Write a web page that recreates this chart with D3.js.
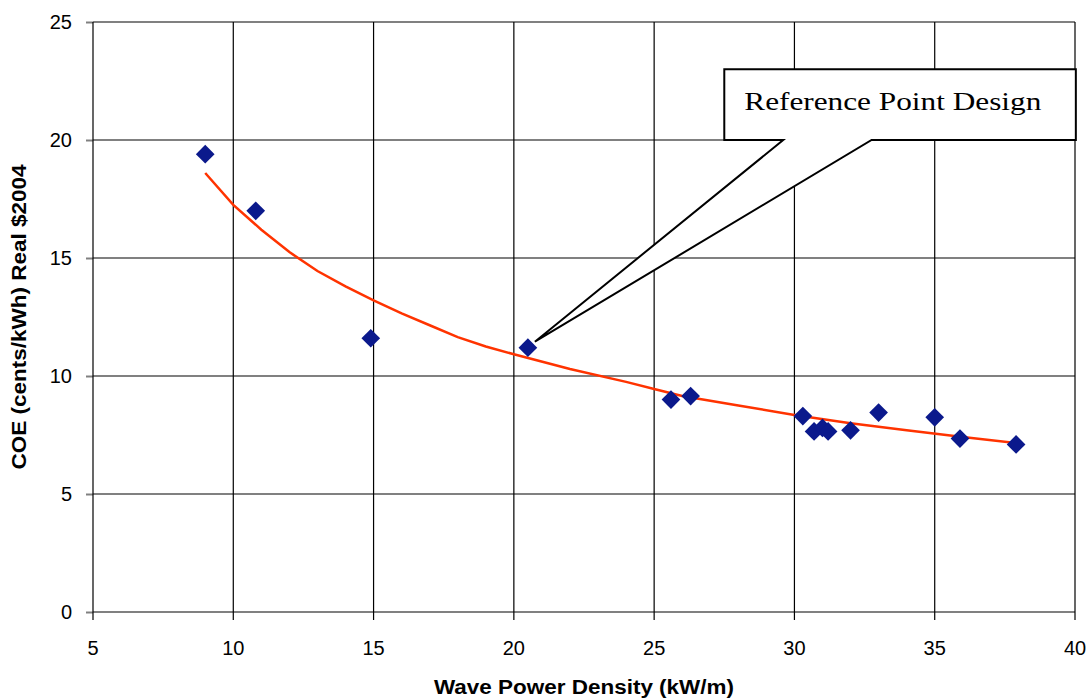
<!DOCTYPE html>
<html>
<head>
<meta charset="utf-8">
<script src="https://cdn.jsdelivr.net/npm/d3@7"></script>
<style>
  html, body { margin: 0; padding: 0; background: #fff; }
  svg { display: block; }
</style>
</head>
<body>
<svg id="chart"></svg>
<script>
// wave power density (kW/m) vs cost of energy (cents/kWh)
var power = [9.0, 10.8, 14.9, 20.5, 25.6, 26.3, 30.3, 30.7, 31.0, 31.2, 32.0, 33.0, 35.0, 35.9, 37.9];
var coe   = [19.4, 17.0, 11.6, 11.2, 9.0, 9.15, 8.3, 7.65, 7.8, 7.65, 7.7, 8.45, 8.25, 7.35, 7.1];

// trend line
var trend_x = [9, 10, 11, 12, 13, 14, 15, 16, 17, 18, 19, 20, 22, 24, 25, 26, 28, 30, 32, 34, 36, 38];
var trend_y = [18.6, 17.25, 16.2, 15.25, 14.45, 13.8, 13.2, 12.65, 12.15, 11.65, 11.25, 10.92, 10.3, 9.75, 9.45, 9.15, 8.75, 8.35, 8.0, 7.7, 7.42, 7.15];

var x_ticks = [5, 10, 15, 20, 25, 30, 35, 40];
var y_ticks = [0, 5, 10, 15, 20, 25];

var ref_index = 3;   // the point the callout points at
var ref_label = 'Reference Point Design';

var width = 1091,
    height = 700,
    margin = {top: 22, right: 16, bottom: 88, left: 93};

var svg = d3.select('#chart')
    .attr('width', width)
    .attr('height', height);

var x = d3.scaleLinear().domain([5, 40]).range([margin.left, width - margin.right]);
var y = d3.scaleLinear().domain([0, 25]).range([height - margin.bottom, margin.top]);

// horizontal gridlines (gray), with the small ticks left of the axis
svg.append('g')
    .attr('transform', 'translate(' + margin.left + ',0)')
    .call(d3.axisLeft(y).tickValues(y_ticks).tickSize(7).tickFormat(''))
    .call(g => g.select('.domain').remove())
    .call(g => g.selectAll('line').attr('stroke', '#808080').attr('stroke-width', 2));
svg.append('g')
    .selectAll('line')
    .data(y_ticks)
    .join('line')
    .attr('x1', x(5)).attr('x2', x(40))
    .attr('y1', d => y(d)).attr('y2', d => y(d))
    .attr('stroke', '#808080')
    .attr('stroke-width', 2);

// vertical gridlines (black) + x ticks
svg.append('g')
    .selectAll('line')
    .data(x_ticks)
    .join('line')
    .attr('x1', d => x(d)).attr('x2', d => x(d))
    .attr('y1', y(25)).attr('y2', y(0) + 8)
    .attr('stroke', '#000')
    .attr('stroke-width', 1.2);

// tick labels
svg.append('g')
    .selectAll('text')
    .data(x_ticks)
    .join('text')
    .attr('x', d => x(d))
    .attr('y', y(0) + 43)
    .attr('text-anchor', 'middle')
    .attr('font-family', 'Liberation Sans, Arial, sans-serif')
    .attr('font-size', 20)
    .text(d => d);
svg.append('g')
    .selectAll('text')
    .data(y_ticks)
    .join('text')
    .attr('x', margin.left - 21)
    .attr('y', d => y(d) + 7)
    .attr('text-anchor', 'end')
    .attr('font-family', 'Liberation Sans, Arial, sans-serif')
    .attr('font-size', 20)
    .text(d => d);

// axis titles
svg.append('text')
    .attr('x', (x(5) + x(40)) / 2)
    .attr('y', 694)
    .attr('text-anchor', 'middle')
    .attr('font-family', 'Liberation Sans, Arial, sans-serif')
    .attr('font-weight', 'bold')
    .attr('font-size', 20)
    .attr('textLength', 300)
    .attr('lengthAdjust', 'spacingAndGlyphs')
    .text('Wave Power Density (kW/m)');
svg.append('text')
    .attr('transform', 'translate(26,' + (y(0) + y(25)) / 2 + ') rotate(-90)')
    .attr('text-anchor', 'middle')
    .attr('font-family', 'Liberation Sans, Arial, sans-serif')
    .attr('font-weight', 'bold')
    .attr('font-size', 20)
    .attr('textLength', 305)
    .attr('lengthAdjust', 'spacingAndGlyphs')
    .text('COE (cents/kWh) Real $2004');

// trend line
var line = d3.line()
    .x(d => x(d[0]))
    .y(d => y(d[1]));
svg.append('path')
    .datum(d3.zip(trend_x, trend_y))
    .attr('d', line)
    .attr('fill', 'none')
    .attr('stroke', '#ff3300')
    .attr('stroke-width', 2.5);

// data points (diamonds)
var sym = d3.symbol().type(d3.symbolSquare).size(175);
svg.append('g')
    .selectAll('path')
    .data(d3.zip(power, coe))
    .join('path')
    .attr('d', sym)
    .attr('transform', d => 'translate(' + x(d[0]) + ',' + y(d[1]) + ') rotate(45)')
    .attr('fill', '#0b198c');

// callout box with tail
var box = {x0: 27.5, x1: 40.03, y0: 20, y1: 23, base0: 29.6, base1: 32.75};
var tip = [x(power[ref_index]) + 7, y(coe[ref_index]) - 6];
var p = d3.path();
p.moveTo(x(box.x0), y(box.y1));
p.lineTo(x(box.x1), y(box.y1));
p.lineTo(x(box.x1), y(box.y0));
p.lineTo(x(box.base1), y(box.y0));
p.lineTo(tip[0], tip[1]);
p.lineTo(x(box.base0), y(box.y0));
p.lineTo(x(box.x0), y(box.y0));
p.closePath();
svg.append('path')
    .attr('d', p.toString())
    .attr('fill', '#fff')
    .attr('stroke', '#000')
    .attr('stroke-width', 2)
    .attr('stroke-linejoin', 'miter');
svg.append('text')
    .attr('x', x(box.x0) + 20)
    .attr('y', y(box.y1) + 41)
    .attr('font-family', 'Liberation Serif, Times New Roman, serif')
    .attr('font-size', 26)
    .attr('textLength', 297)
    .attr('lengthAdjust', 'spacingAndGlyphs')
    .text(ref_label);
</script>
</body>
</html>
